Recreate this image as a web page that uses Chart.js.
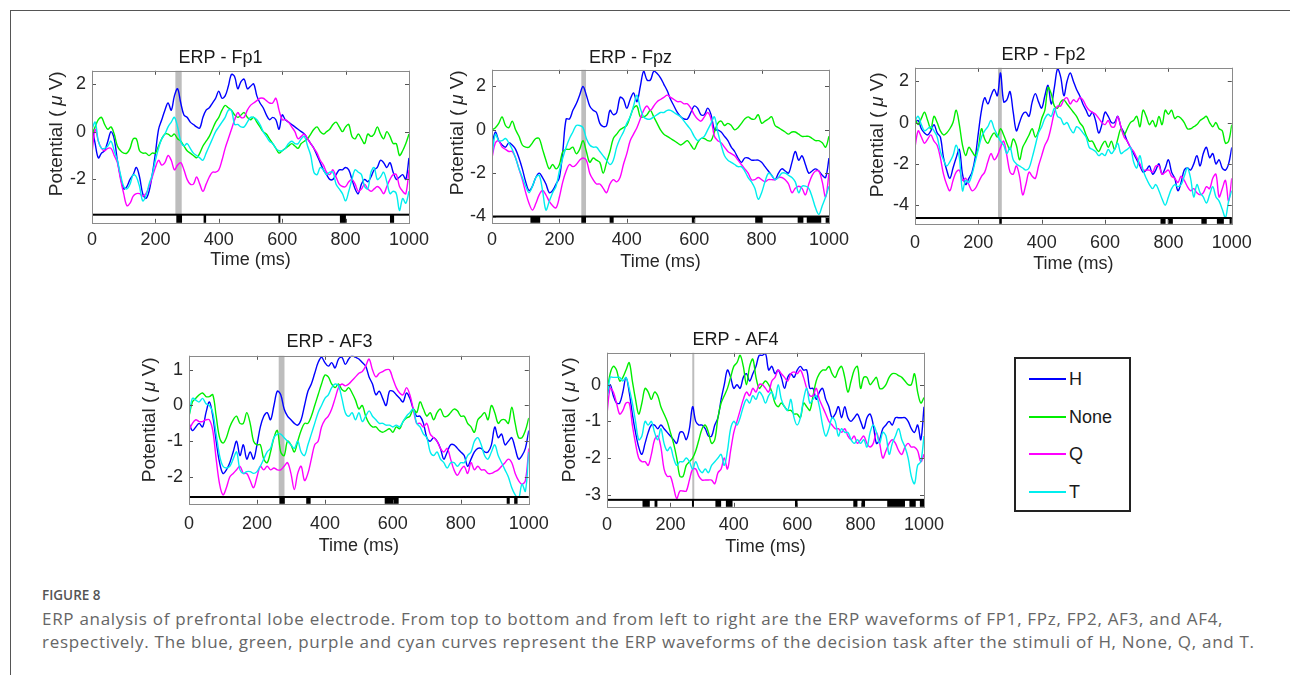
<!DOCTYPE html>
<html>
<head>
<meta charset="utf-8">
<script src="https://cdn.jsdelivr.net/npm/chart.js@4.4.1/dist/chart.umd.min.js"></script>
<style>
  body { margin: 0; background: #fff; width: 1290px; height: 675px; overflow: hidden; position: relative; }
  #frame { position: absolute; left: 10px; top: 10px; width: 1300px; height: 700px; border-top: 1.5px solid #555; border-left: 1.5px solid #555; }
  canvas { position: absolute; }
  .legend { position: absolute; left: 1014px; top: 357px; width: 113px; height: 151px; border: 2px solid #222; font: 18px "Liberation Sans", Arial, sans-serif; color: #1a1a1a; }
  .legend .row { position: absolute; left: 0; height: 22px; line-height: 22px; }
  .legend .sw { position: absolute; left: 13px; top: 10px; width: 37px; height: 2px; }
  .legend .lb { position: absolute; left: 53px; top: 0; white-space: nowrap; }
  .fig { position: absolute; left: 42px; top: 587px; font: 600 13.5px "Open Sans", sans-serif; color: #555; line-height: 16px; }
  .cap { position: absolute; left: 42px; top: 607px; width: 1240px; font: 17px "Open Sans", sans-serif; letter-spacing: 0.7px; color: #666; line-height: 23px; white-space: nowrap; }
</style>
</head>
<body>
<div id="frame"></div>

<div class="legend" id="legend"></div>

<div class="fig">FIGURE 8</div>
<div class="cap">ERP analysis of prefrontal lobe electrode. From top to bottom and from left to right are the ERP waveforms of FP1, FPz, FP2, AF3, and AF4,<br>respectively. The blue, green, purple and cyan curves represent the ERP waveforms of the decision task after the stimuli of H, None, Q, and T.</div>

<script>
// sampling grid (ms)
const timeMs = Array.from({ length: 101 }, (_, i) => i * 10);
const xTicks = [0, 200, 400, 600, 800, 1000];
const seriesNames = ['H', 'None', 'Q', 'T'];
const seriesColors = ['#0000ff', '#00ee00', '#ff00ff', '#00eeee'];

// ---- Fp1 ----
const fp1H = [0.2,-0.5,-1.1,-0.9,-0.8,-0.4,0.0,-0.3,-1.2,-1.9,
  -2.4,-2.3,-2.0,-1.8,-1.5,-1.9,-2.6,-2.8,-2.5,-1.8,
  -0.9,0.1,0.5,0.9,1.2,0.9,1.5,1.8,1.2,0.7,
  0.6,0.4,0.3,0.2,0.15,0.6,0.9,1.0,1.2,1.4,
  1.7,1.4,1.5,1.9,2.4,2.3,1.8,2.1,2.2,1.8,
  1.9,2.0,1.5,1.2,1.0,0.7,0.5,0.6,0.5,0.1,
  0.7,0.5,0.4,0.3,0.2,0.1,0.0,-0.1,-0.3,-0.5,
  -0.7,-1.0,-1.3,-1.6,-1.8,-2.0,-2.0,-1.8,-1.6,-1.6,
  -1.5,-1.6,-2.0,-2.4,-2.6,-2.2,-2.0,-2.1,-1.9,-1.6,
  -1.5,-1.2,-1.3,-1.5,-1.3,-1.7,-2.0,-1.9,-1.8,-2.0,
  -1.1];
const fp1None = [-0.1,0.2,0.5,0.6,0.3,0.1,0.2,-0.1,-0.6,-0.8,
  -0.9,-0.9,-0.7,-0.3,-0.3,-0.8,-0.9,-0.9,-1.0,-0.9,
  -0.9,-0.6,-0.3,-0.1,-0.1,-0.2,-0.1,-0.3,-0.4,-0.6,
  -0.8,-0.9,-1.0,-1.1,-0.9,-0.6,-0.4,-0.2,0.1,0.4,
  0.6,0.9,1.1,1.0,0.9,0.7,0.6,0.7,0.8,0.6,
  0.5,0.6,0.4,0.2,0.0,-0.1,-0.3,-0.5,-0.7,-0.9,
  -0.8,-0.7,-0.6,-0.5,-0.6,-0.7,-0.5,-0.4,-0.3,-0.1,
  0.1,0.2,0.0,-0.1,0.0,0.1,0.3,0.4,0.2,0.0,
  0.2,0.3,-0.2,-0.3,-0.1,-0.3,-0.5,-0.1,-0.2,-0.1,
  0.2,-0.1,-0.3,0.0,-0.2,-0.5,-0.5,-1.0,-0.8,-0.5,
  -0.1];
const fp1Q = [-0.9,0.1,-0.4,-0.7,-0.8,-0.7,-0.7,-1.0,-1.3,-2.0,
  -2.6,-3.1,-3.0,-2.7,-2.6,-2.6,-2.7,-2.6,-2.3,-1.9,
  -1.5,-1.2,-1.4,-1.3,-1.0,-1.2,-1.6,-1.4,-1.3,-1.6,
  -2.0,-2.2,-2.2,-1.9,-2.2,-2.5,-2.2,-1.9,-1.7,-1.7,
  -1.6,-1.2,-0.7,-0.3,0.1,0.5,0.8,0.6,0.6,0.9,
  1.1,1.2,1.3,1.4,1.4,1.3,1.2,1.2,1.4,0.9,
  0.5,0.5,0.4,0.2,0.0,-0.3,-0.2,-0.1,-0.3,-0.5,
  -0.7,-0.9,-1.2,-1.4,-1.7,-1.8,-1.6,-1.9,-2.2,-2.3,
  -2.3,-2.1,-2.0,-2.2,-2.5,-2.4,-2.2,-2.4,-2.5,-2.4,
  -2.3,-2.4,-2.6,-2.3,-2.0,-1.8,-1.8,-2.3,-2.5,-2.6,
  -1.6];
const fp1T = [0.1,0.4,-0.4,-0.7,-0.7,-0.6,-0.4,-0.8,-1.2,-1.8,
  -2.3,-2.4,-2.2,-1.8,-1.9,-2.3,-2.9,-2.7,-2.2,-1.8,
  -1.2,-0.7,-0.3,-0.1,0.2,0.4,0.6,0.2,-0.4,-0.6,
  -0.5,-0.7,-0.9,-1.0,-1.1,-1.2,-0.9,-0.6,-0.3,0.0,
  0.2,0.4,0.6,0.9,0.9,0.3,0.3,0.2,0.2,0.4,
  0.6,0.6,0.5,0.3,0.0,-0.2,-0.4,-0.5,-0.7,-0.8,
  -0.8,-0.7,-0.5,-0.4,-0.5,-0.5,-0.3,-0.2,-0.6,-1.0,
  -1.7,-1.8,-1.5,-1.6,-1.8,-1.7,-1.7,-2.2,-2.4,-2.6,
  -2.9,-2.5,-2.0,-1.6,-1.7,-1.8,-2.3,-2.4,-1.7,-1.5,
  -2.0,-1.9,-1.7,-2.1,-2.6,-2.5,-2.6,-3.3,-2.8,-3.0,
  -2.5];
const fp1Band = [263, 283];
const fp1Sig = [[266, 284], [352, 360], [588, 593], [782, 801], [940, 953]];
const fp1Ticks = [-2, 0, 2];

// ---- Fpz ----
const fpzH = [-0.7,-0.1,-0.5,-0.7,-0.8,-0.6,-0.7,-0.9,-1.3,-1.8,
  -2.4,-2.8,-2.6,-2.2,-2.0,-2.2,-2.5,-2.9,-2.8,-2.5,
  -2.2,-1.0,0.5,0.5,0.9,1.2,1.6,2.0,1.6,1.1,
  0.9,0.8,0.3,0.15,0.2,0.9,0.7,0.8,1.5,1.4,
  1.0,1.4,1.7,1.3,2.0,2.7,2.3,2.3,2.7,2.6,
  2.4,2.1,1.8,1.4,1.1,0.8,0.6,0.5,0.5,0.8,
  1.1,1.0,0.7,0.7,1.0,0.7,0.0,0.0,-0.1,-0.3,
  -0.5,-0.8,-1.0,-1.3,-1.5,-1.3,-1.3,-1.4,-1.4,-1.4,
  -1.5,-1.7,-1.9,-2.1,-2.3,-2.0,-1.8,-1.9,-2.0,-1.5,
  -1.0,-1.4,-1.2,-1.6,-2.0,-1.9,-1.8,-1.9,-2.1,-2.2,
  -1.3];
const fpzNone = [0.0,0.1,0.3,0.6,0.2,0.1,0.4,0.0,-0.3,-0.7,
  -0.8,-0.8,-0.6,-0.4,-0.4,-0.9,-1.4,-1.8,-1.6,-1.8,
  -1.6,-1.0,-0.9,-0.9,-0.8,-1.1,-0.9,-0.5,-1.0,-1.5,
  -1.3,-1.4,-1.5,-2.0,-1.5,-1.0,-0.4,-0.2,0.0,0.1,
  0.2,0.6,1.0,1.1,0.6,0.6,0.7,0.9,0.6,0.3,
  0.0,-0.2,-0.3,-0.4,-0.5,-0.6,-0.7,-0.6,-0.5,-0.7,
  -0.9,-0.6,-0.4,-0.4,-0.5,-0.5,-0.1,0.3,0.4,0.2,
  0.3,0.2,0.0,0.1,0.3,0.5,0.6,0.5,0.5,0.7,
  0.3,0.4,0.5,0.6,0.2,0.1,0.0,-0.1,-0.2,-0.1,
  -0.1,-0.2,-0.3,-0.3,-0.3,-0.4,-0.5,-0.5,-0.6,-0.8,
  -0.3];
const fpzQ = [-1.3,-0.6,-0.5,-0.8,-0.9,-1.0,-1.0,-1.3,-1.8,-2.3,
  -2.9,-3.4,-3.7,-3.4,-3.0,-2.8,-3.0,-3.3,-3.5,-3.6,
  -3.1,-2.4,-1.9,-1.6,-1.7,-1.6,-1.4,-1.3,-1.4,-2.0,
  -2.3,-2.5,-2.5,-2.7,-2.9,-2.5,-2.3,-2.4,-2.2,-1.6,
  -1.1,-0.5,-0.2,0.1,0.5,0.9,1.1,0.9,1.1,1.3,
  1.4,1.5,1.6,1.5,1.4,1.3,1.3,1.2,1.2,1.0,
  0.7,0.5,0.4,0.6,0.8,0.5,-0.3,-0.5,-0.6,-0.8,
  -1.0,-1.1,-1.2,-1.4,-1.6,-1.8,-2.0,-2.3,-2.3,-2.2,
  -2.3,-2.4,-2.3,-2.3,-2.3,-2.2,-2.2,-2.3,-2.5,-2.9,
  -2.7,-2.6,-2.7,-3.0,-2.5,-2.1,-1.9,-1.9,-2.4,-3.1,
  -2.0];
const fpzT = [-1.2,-0.2,-0.5,-0.5,-0.4,-0.6,-0.9,-1.3,-1.8,-2.2,
  -2.6,-2.9,-2.6,-2.2,-2.1,-2.8,-3.7,-3.3,-2.9,-2.6,
  -1.9,-1.3,-0.8,-0.4,-0.1,0.2,0.2,0.1,-0.4,-0.7,
  -0.8,-0.8,-1.0,-1.2,-1.4,-1.6,-1.4,-0.8,-0.4,-0.1,
  0.3,0.6,1.1,1.6,1.0,0.6,0.5,0.5,0.6,0.7,
  0.8,0.8,0.9,0.9,0.8,0.7,0.6,0.4,0.2,0.0,
  -0.3,-0.5,-0.4,-0.3,0.0,0.3,0.6,-0.1,-0.7,-1.2,
  -1.4,-1.5,-1.6,-1.7,-1.7,-1.9,-2.2,-2.4,-2.7,-3.2,
  -2.9,-2.4,-2.0,-2.1,-2.3,-2.2,-2.0,-2.0,-2.1,-2.2,
  -2.4,-2.9,-2.6,-2.6,-2.7,-3.1,-3.6,-3.9,-3.5,-3.1,
  -2.6];
const fpzBand = [265, 279];
const fpzSig = [[114, 143], [265, 279], [349, 361], [593, 603], [781, 803], [907, 924], [934, 977], [990, 1000]];
const fpzTicks = [-4, -2, 0, 2];

// ---- Fp2 ----
const fp2H = [0.0,0.1,-0.3,-0.5,-0.6,-0.4,-0.1,-0.5,-0.7,-1.7,
  -2.3,-2.7,-2.2,-1.7,-1.3,-2.5,-3.0,-2.7,-2.4,-1.7,
  -0.5,0.6,1.2,0.9,1.3,1.6,1.3,2.4,1.0,1.1,
  1.5,0.5,-0.4,0.0,0.4,0.5,0.3,1.0,1.4,1.0,
  0.7,1.3,1.8,0.9,1.7,2.6,2.2,1.3,2.0,2.4,
  2.0,1.6,1.3,0.9,0.6,0.3,0.5,0.1,-0.5,-0.1,
  0.5,0.3,0.0,0.0,0.3,-0.2,-0.5,-0.9,-1.2,-1.5,
  -1.8,-2.1,-2.4,-2.3,-2.1,-2.5,-2.3,-2.0,-2.5,-2.2,
  -1.8,-2.4,-2.7,-3.3,-2.9,-2.3,-2.2,-2.3,-2.0,-1.6,
  -2.1,-1.5,-1.2,-1.7,-1.5,-2.0,-1.8,-2.2,-2.3,-2.0,
  -1.2];
const fp2None = [0.2,-0.1,0.2,0.5,0.1,-0.3,0.3,0.0,-0.4,-0.6,
  -0.5,-0.3,0.0,0.6,-0.1,-1.1,-1.6,-1.2,-1.4,-1.6,
  -1.2,-0.3,-0.8,-1.0,-0.7,-0.5,-0.7,-0.3,-0.6,-1.0,
  -1.3,-0.8,-1.1,-1.8,-1.2,-0.9,-0.6,-0.3,-0.7,-0.4,
  0.2,0.6,1.7,1.4,0.8,0.7,1.0,1.1,0.9,0.7,
  0.5,0.3,0.0,-0.2,-0.6,-0.9,-0.9,-1.2,-1.4,-1.1,
  -0.9,-1.2,-0.9,-1.3,-0.8,-0.3,-0.6,-0.3,0.0,0.1,
  0.3,-0.2,0.6,0.3,-0.1,0.1,-0.2,0.3,-0.1,0.6,
  0.4,0.6,0.2,0.3,0.2,0.0,-0.3,-0.3,-0.2,-0.1,
  0.1,0.2,0.3,0.0,-0.2,0.0,-0.3,-0.4,-1.0,-0.9,
  -0.1];
const fp2Q = [-1.2,-0.4,-0.7,-1.0,-0.8,-0.6,-0.9,-1.1,-1.7,-2.5,
  -3.0,-3.3,-2.8,-2.4,-2.3,-2.8,-2.7,-3.0,-3.3,-3.2,
  -2.9,-2.6,-2.4,-1.9,-1.5,-1.8,-1.6,-1.2,-0.9,-1.6,
  -2.4,-2.5,-2.1,-2.6,-3.5,-3.0,-2.4,-2.6,-2.7,-2.1,
  -1.6,-1.1,-0.8,-0.2,0.5,0.8,0.8,1.1,1.2,0.9,
  1.1,1.0,1.2,1.1,0.8,0.6,0.5,0.4,0.2,0.0,
  -0.1,0.1,-0.2,-0.2,0.3,-0.2,-0.7,-0.9,-1.2,-1.4,
  -1.7,-2.0,-2.3,-2.3,-2.3,-2.4,-2.1,-2.1,-2.5,-2.4,
  -2.3,-2.6,-2.7,-2.9,-2.6,-2.8,-3.1,-3.3,-3.2,-3.4,
  -3.5,-3.4,-3.1,-3.2,-2.7,-2.5,-3.6,-3.2,-2.8,-3.8,
  -2.7];
const fp2T = [0.1,0.3,-0.1,-0.4,-0.3,-0.2,-0.4,-0.7,-1.4,-1.8,
  -2.1,-1.9,-1.6,-1.1,-1.7,-3.3,-2.8,-2.9,-2.5,-1.9,
  -1.3,-0.7,-0.4,-0.2,0.1,-0.3,-0.6,-0.9,-1.1,-1.5,
  -1.2,-1.8,-2.0,-2.1,-2.2,-2.3,-2.2,-1.7,-1.1,-0.5,
  -0.2,0.2,0.4,0.3,0.7,0.3,0.2,-0.1,0.0,-0.3,
  -0.5,-0.2,-0.3,-0.5,-0.7,-1.2,-1.3,-1.4,-1.6,-1.5,
  -1.6,-1.3,-1.5,-1.3,-1.0,-1.5,-1.4,-1.3,-1.2,-1.9,
  -2.2,-1.6,-2.3,-2.7,-3.0,-3.2,-3.0,-3.3,-3.7,-4.0,
  -3.6,-3.2,-3.0,-3.1,-3.0,-2.6,-2.2,-2.7,-3.6,-3.0,
  -3.4,-3.6,-3.9,-3.5,-3.1,-3.6,-3.8,-4.2,-4.6,-3.8,
  -3.3];
const fp2Band = [262, 274];
const fp2Sig = [[266, 274], [775, 791], [798, 814], [904, 921], [953, 975], [993, 1000]];
const fp2Ticks = [-4, -2, 0, 2];

// ---- AF3 ----
const af3H = [-0.5,-0.7,-0.6,-0.5,-0.6,-0.2,0.1,-0.3,-1.0,-1.6,
  -1.9,-1.8,-1.6,-1.3,-1.0,-1.4,-1.1,-1.5,-1.3,-1.5,
  -1.1,-0.6,-0.3,-0.2,-0.4,0.0,0.4,0.3,-0.1,-0.3,
  -0.4,-0.5,-0.55,-0.4,0.0,0.4,0.6,0.9,1.2,1.35,
  1.2,1.1,1.2,1.05,1.3,1.35,1.15,1.3,1.4,1.35,
  1.3,1.2,1.1,0.8,0.6,0.3,0.4,0.2,0.0,0.4,
  0.4,0.3,0.2,0.1,0.35,0.2,-0.1,-0.3,-0.3,-0.5,
  -0.9,-1.0,-0.9,-1.0,-1.2,-1.5,-1.3,-1.1,-1.1,-1.2,
  -1.3,-1.4,-1.7,-1.5,-1.3,-1.2,-1.2,-1.3,-1.3,-1.1,
  -0.6,-0.9,-0.8,-1.1,-1.0,-0.9,-1.2,-1.5,-1.4,-1.2,
  -0.7];
const af3None = [-0.3,0.1,0.2,0.3,0.35,0.25,0.25,0.3,-0.3,-0.9,
  -1.05,-0.9,-0.6,-0.4,-0.3,-0.5,-0.5,-0.2,-0.5,-1.0,
  -1.1,-1.1,-1.5,-1.6,-1.3,-0.9,-0.7,-1.3,-1.4,-1.0,
  -1.1,-1.3,-1.0,-0.7,-0.5,-0.5,-0.3,0.0,0.3,0.6,
  0.85,0.8,0.6,0.5,0.6,0.45,0.4,0.5,0.35,0.15,
  -0.1,0.0,-0.3,-0.5,-0.6,-0.6,-0.7,-0.75,-0.7,-0.65,
  -0.75,-0.6,-0.65,-0.45,-0.35,-0.3,-0.1,-0.2,0.1,-0.1,
  -0.3,-0.2,-0.4,-0.2,-0.1,-0.3,-0.3,-0.2,-0.1,-0.15,
  -0.3,-0.3,-0.5,-0.6,-0.75,-0.4,-0.3,-0.2,-0.4,0.0,
  -0.2,-0.5,-0.4,-0.4,-0.5,-0.05,-0.5,-0.9,-0.9,-0.7,
  -0.35];
const af3Q = [-0.7,-0.5,-0.4,-0.45,-0.45,-0.4,-0.4,-0.7,-1.5,-2.2,
  -2.5,-2.3,-2.0,-1.9,-1.8,-1.7,-1.9,-1.9,-2.1,-2.3,
  -2.0,-1.7,-1.8,-1.7,-1.8,-1.75,-1.8,-1.8,-1.7,-1.6,
  -1.9,-2.35,-1.9,-1.7,-2.1,-1.9,-1.5,-1.1,-1.0,-0.6,
  -0.4,-0.3,-0.1,0.2,0.5,0.6,0.55,0.6,0.7,0.8,
  0.9,0.95,1.1,1.3,1.0,0.8,0.9,0.95,1.0,1.0,
  0.75,0.5,0.35,0.3,0.5,0.3,-0.1,-0.5,-0.5,-0.6,
  -0.5,-0.8,-0.9,-1.0,-1.2,-1.3,-1.2,-1.5,-1.8,-1.95,
  -1.8,-1.7,-1.9,-1.6,-1.8,-1.7,-1.8,-1.8,-1.9,-1.9,
  -1.85,-1.8,-1.7,-1.6,-1.5,-1.6,-1.9,-2.1,-2.2,-2.1,
  -1.2];
const af3T = [-0.3,0.2,0.15,0.1,0.2,0.05,0.0,-0.2,-0.8,-1.4,
  -1.7,-1.75,-1.7,-1.5,-1.3,-1.8,-1.9,-1.85,-1.85,-1.9,
  -1.85,-1.7,-1.5,-1.3,-1.2,-0.9,-0.8,-0.8,-0.9,-1.0,
  -1.1,-1.2,-1.0,-1.3,-1.4,-1.1,-0.8,-0.5,-0.2,0.0,
  0.2,0.3,0.5,0.6,0.55,0.2,-0.2,-0.3,-0.2,-0.4,
  -0.2,-0.45,-0.3,-0.15,-0.3,-0.4,-0.5,-0.5,-0.55,-0.55,
  -0.6,-0.55,-0.6,-0.45,-0.3,-0.2,-0.1,-0.5,-0.6,-0.8,
  -0.9,-1.3,-1.4,-1.3,-1.5,-1.6,-1.75,-1.6,-1.6,-1.7,
  -1.6,-1.6,-1.4,-1.3,-1.0,-0.9,-1.1,-1.4,-1.5,-1.3,
  -1.1,-1.4,-1.6,-1.8,-2.0,-2.3,-2.5,-2.6,-2.2,-2.4,
  -1.3];
const af3Band = [264, 281];
const af3Sig = [[266, 282], [345, 358], [576, 617], [935, 944], [957, 967]];
const af3Ticks = [-2, -1, 0, 1];

// ---- AF4 ----
const af4H = [-0.3,0.0,-0.3,-0.5,-0.5,-0.2,0.2,-0.2,-0.8,-1.3,
  -1.7,-1.9,-1.6,-1.3,-1.1,-1.1,-1.2,-1.1,-1.2,-1.3,
  -1.4,-1.5,-1.6,-1.3,-1.3,-1.5,-1.2,-0.6,-1.0,-1.1,
  -1.1,-1.2,-1.4,-1.4,-1.1,-0.9,-0.4,0.0,0.4,0.2,
  -0.1,0.0,-0.1,0.2,0.3,0.1,0.3,0.5,0.8,0.8,
  0.85,0.4,0.5,0.3,0.4,0.2,-0.1,0.2,0.3,0.2,
  0.4,0.5,0.4,0.4,-0.1,-0.1,-0.4,-0.2,-0.1,-0.4,
  -0.6,-0.9,-0.8,-0.6,-0.9,-0.6,-0.9,-1.0,-0.9,-0.8,
  -1.0,-1.2,-0.9,-0.8,-1.1,-1.6,-1.5,-1.2,-1.1,-1.0,
  -1.1,-0.9,-0.9,-0.9,-0.9,-1.0,-1.2,-1.3,-1.1,-1.5,
  -0.6];
const af4None = [-0.2,0.3,0.5,0.4,0.1,0.2,0.4,0.6,0.1,-0.4,
  -0.8,-0.5,-0.1,-0.2,-0.4,-0.2,-0.3,-0.6,-0.8,-1.0,
  -1.3,-1.6,-2.0,-2.5,-2.5,-2.2,-2.1,-2.0,-1.8,-1.5,
  -1.2,-1.1,-1.3,-1.6,-1.5,-0.9,-0.5,-0.3,-0.1,0.2,
  0.5,0.6,0.8,0.5,0.0,0.5,0.7,0.2,-0.1,0.0,
  0.1,0.0,-0.2,-0.5,-0.6,-0.5,-0.6,-0.7,-0.7,-0.8,
  -0.8,-0.9,-0.5,-0.6,-0.7,-0.3,0.1,0.3,0.4,0.4,
  0.5,0.3,0.2,0.4,0.5,0.2,-0.2,0.1,0.4,0.5,
  -0.1,0.2,0.2,0.0,0.1,0.2,-0.1,-0.1,0.0,0.2,
  0.3,0.3,0.25,0.2,0.1,0.0,0.0,0.3,-0.2,-0.5,
  -0.35];
const af4Q = [-0.8,-0.1,-0.2,-0.5,-0.8,-0.7,-0.5,-0.5,-1.1,-1.6,
  -2.0,-2.1,-2.1,-2.2,-1.9,-1.5,-1.4,-1.7,-2.3,-2.5,
  -2.5,-2.8,-3.1,-2.9,-2.9,-2.9,-2.6,-2.3,-2.3,-2.5,
  -2.6,-2.6,-2.6,-2.6,-2.7,-2.4,-2.3,-2.0,-2.3,-1.8,
  -1.3,-1.0,-0.7,-0.4,-0.2,-0.3,-0.1,-0.2,0.0,0.0,
  -0.1,-0.2,0.1,0.2,0.4,0.3,0.2,0.1,0.3,0.35,
  0.3,0.4,0.2,-0.1,-0.3,-0.3,-0.1,-0.4,-0.6,-0.8,
  -1.0,-1.1,-1.2,-1.2,-1.3,-1.2,-1.4,-1.5,-1.4,-1.6,
  -1.5,-1.4,-1.6,-1.7,-1.6,-1.3,-1.6,-2.0,-1.8,-1.6,
  -1.5,-1.6,-1.8,-1.9,-1.7,-1.6,-1.7,-1.7,-1.8,-2.1,
  -1.9];
const af4T = [-0.4,0.2,0.2,0.2,0.2,0.1,0.2,-0.1,-0.5,-1.0,
  -1.5,-1.4,-1.0,-1.1,-1.0,-1.3,-1.5,-1.2,-1.6,-1.8,
  -1.7,-2.0,-2.2,-2.1,-2.1,-2.0,-2.1,-2.3,-2.1,-2.3,
  -2.4,-2.3,-2.4,-2.2,-2.1,-2.0,-1.9,-2.2,-1.8,-1.2,
  -1.0,-1.1,-0.9,-0.6,-0.4,-0.5,-0.3,-0.4,-0.2,-0.3,
  -0.5,-0.3,-0.2,-0.4,0.0,-0.4,-0.6,-0.7,-0.4,-0.9,
  -1.1,-0.9,-0.4,-0.1,-0.5,-0.4,-0.3,-0.6,-1.1,-1.4,
  -1.2,-0.9,-1.0,-1.4,-1.2,-1.3,-1.3,-1.5,-1.6,-1.5,
  -1.6,-1.5,-1.7,-1.3,-1.1,-1.3,-1.6,-1.3,-1.4,-1.9,
  -1.6,-1.4,-1.2,-1.5,-1.7,-2.0,-2.5,-2.7,-2.2,-2.1,
  -1.4];
const af4Band = [269, 272];
const af4Sig = [[112, 135], [150, 159], [268, 272], [342, 360], [375, 396], [593, 601], [777, 790], [803, 814], [884, 940], [954, 974], [987, 1000]];
const af4Ticks = [-3, -2, -1, 0];

// page layout of each axes box (left, top, right, bottom) and its labels
const panels = [
  { title: 'ERP - Fp1', series: [fp1H, fp1None, fp1Q, fp1T], band: fp1Band, sig: fp1Sig, yTicks: fp1Ticks,
    yMin: -3.82, stripTop: -3.48, yMax: 2.55, box: [92, 71, 409, 223], titleY: 58, tickY: 240, xlabY: 260, ylab: [57, 134] },
  { title: 'ERP - Fpz', series: [fpzH, fpzNone, fpzQ, fpzT], band: fpzBand, sig: fpzSig, yTicks: fpzTicks,
    yMin: -4.29, stripTop: -4.0, yMax: 2.77, box: [492, 70, 829, 223], titleY: 58, tickY: 240, xlabY: 262, ylab: [458, 133] },
  { title: 'ERP - Fp2', series: [fp2H, fp2None, fp2Q, fp2T], band: fp2Band, sig: fp2Sig, yTicks: fp2Ticks,
    yMin: -4.9, stripTop: -4.62, yMax: 2.65, box: [915, 68, 1232, 224], titleY: 55, tickY: 243, xlabY: 264, ylab: [878, 135] },
  { title: 'ERP - AF3', series: [af3H, af3None, af3Q, af3T], band: af3Band, sig: af3Sig, yTicks: af3Ticks,
    yMin: -2.75, stripTop: -2.56, yMax: 1.39, box: [189, 356, 530, 504], titleY: 342, tickY: 524, xlabY: 546, ylab: [150, 420] },
  { title: 'ERP - AF4', series: [af4H, af4None, af4Q, af4T], band: af4Band, sig: af4Sig, yTicks: af4Ticks,
    yMin: -3.33, stripTop: -3.14, yMax: 0.87, box: [607, 353, 924, 507], titleY: 340, tickY: 525, xlabY: 547, ylab: [570, 420] }
];

const FONT = '"Liberation Sans", Arial, Helvetica, sans-serif';
const FS = 18;
const LH = FS * 1.2;
const Y_W = 60;
const R_PAD = 28;

// grey window, significance strip, box, inward ticks and y label
const erpDecor = {
  id: 'erpDecor',
  beforeDatasetsDraw(chart, args, o) {
    const { ctx, chartArea: a, scales: { x } } = chart;
    const x0 = x.getPixelForValue(o.band[0]);
    const x1 = x.getPixelForValue(o.band[1]);
    ctx.save();
    ctx.fillStyle = '#bdbdbd';
    ctx.fillRect(x0, a.top, Math.max(x1 - x0, 2), a.bottom - a.top);
    ctx.restore();
  },
  afterDatasetsDraw(chart, args, o) {
    const { ctx, chartArea: a, scales: { x, y } } = chart;
    const ys = y.getPixelForValue(o.stripTop);
    ctx.save();
    ctx.fillStyle = '#fff';
    ctx.fillRect(a.left, ys, a.right - a.left, a.bottom - ys);
    ctx.fillStyle = '#000';
    o.sig.forEach(([t0, t1]) => {
      const p0 = x.getPixelForValue(t0), p1 = x.getPixelForValue(t1);
      ctx.fillRect(p0, ys, Math.max(p1 - p0, 2), a.bottom - ys);
    });
    ctx.fillRect(a.left, ys - 1, a.right - a.left, 2);

    // inward tick marks
    ctx.strokeStyle = '#555';
    ctx.lineWidth = 1;
    ctx.beginPath();
    xTicks.forEach(t => {
      const px = Math.round(x.getPixelForValue(t)) + 0.5;
      ctx.moveTo(px, a.bottom); ctx.lineTo(px, a.bottom - 4);
      ctx.moveTo(px, a.top); ctx.lineTo(px, a.top + 4);
    });
    o.yTicks.forEach(v => {
      const py = Math.round(y.getPixelForValue(v)) + 0.5;
      ctx.moveTo(a.left, py); ctx.lineTo(a.left + 4, py);
      ctx.moveTo(a.right, py); ctx.lineTo(a.right - 4, py);
    });
    ctx.stroke();

    ctx.strokeStyle = '#8a8a8a';
    ctx.strokeRect(Math.round(a.left) + 0.5, Math.round(a.top) + 0.5, Math.round(a.right - a.left), Math.round(a.bottom - a.top));

    // y label: Potential (μV) with italic mu
    const fs = 19;
    const parts = [['Potential (', 'normal'], ['\u03bc', 'italic'], ['V)', 'normal']];
    ctx.translate(o.ylabX, o.ylabY);
    ctx.rotate(-Math.PI / 2);
    ctx.fillStyle = '#262626';
    ctx.textBaseline = 'middle';
    ctx.textAlign = 'left';
    const widths = parts.map(([s, st]) => { ctx.font = `${st} ${fs}px ${FONT}`; return ctx.measureText(s).width; });
    const gap = 5;
    let cx = -(widths.reduce((s, w) => s + w, 0) + 2 * gap) / 2;
    parts.forEach(([s, st], i) => {
      ctx.font = `${st} ${fs}px ${FONT}`;
      ctx.fillText(s, cx, 0);
      cx += widths[i] + (i < 2 ? gap : 0);
    });
    ctx.restore();
  }
};

// legend
const legendEl = document.getElementById('legend');
seriesNames.forEach((n, i) => {
  const row = document.createElement('div');
  row.className = 'row';
  row.style.top = (9 + i * 37.5) + 'px';
  row.style.width = '100%';
  row.innerHTML = `<div class="sw" style="background:${seriesColors[i]}"></div><div class="lb">${n}</div>`;
  legendEl.appendChild(row);
});

panels.forEach(p => {
  const [L, T, R, B] = p.box;
  const left = L - Y_W;
  const top = p.titleY - LH / 2;
  const xH = p.xlabY - B + LH / 2;
  const w = Math.round(R - left + R_PAD);
  const h = Math.round(B - top + xH + 2);

  const cv = document.createElement('canvas');
  cv.width = w; cv.height = h;
  cv.style.left = left + 'px';
  cv.style.top = top + 'px';
  cv.style.width = w + 'px';
  cv.style.height = h + 'px';
  document.body.appendChild(cv);

  new Chart(cv, {
    type: 'line',
    data: {
      labels: timeMs,
      datasets: p.series.map((s, i) => ({
        label: seriesNames[i],
        data: s,
        borderColor: seriesColors[i],
        borderWidth: 1.4,
        pointRadius: 0,
        tension: 0.35,
        fill: false,
        order: 3 - i
      }))
    },
    options: {
      responsive: false,
      animation: false,
      devicePixelRatio: 1,
      layout: { padding: { left: 0, top: 0, right: w - (R - left), bottom: h - (B - top) - xH } },
      plugins: {
        legend: { display: false },
        tooltip: { enabled: false },
        title: {
          display: true, text: p.title, color: '#1a1a1a',
          font: { family: FONT, size: FS, weight: 'normal' },
          padding: { top: 0, bottom: T - p.titleY - LH / 2 }
        },
        erpDecor: {
          band: p.band, sig: p.sig, stripTop: p.stripTop, yTicks: p.yTicks,
          ylabX: p.ylab[0] - left, ylabY: p.ylab[1] - top
        }
      },
      scales: {
        x: {
          type: 'linear', min: 0, max: 1000,
          grid: { display: false, drawTicks: false }, border: { display: false },
          afterBuildTicks: s => { s.ticks = xTicks.map(v => ({ value: v })); },
          afterFit: s => { s.height = xH; },
          ticks: { color: '#262626', font: { family: FONT, size: FS }, padding: p.tickY - B - LH / 2, maxRotation: 0, autoSkip: false, callback: v => String(v) },
          title: { display: true, text: 'Time (ms)', color: '#262626', font: { family: FONT, size: FS }, padding: 0 }
        },
        y: {
          min: p.yMin, max: p.yMax,
          grid: { display: false, drawTicks: false }, border: { display: false },
          afterBuildTicks: s => { s.ticks = p.yTicks.map(v => ({ value: v })); },
          afterFit: s => { s.width = Y_W; },
          ticks: { color: '#262626', font: { family: FONT, size: FS }, padding: 6, callback: v => String(v) }
        }
      }
    },
    plugins: [erpDecor]
  });
});
</script>
</body>
</html>
